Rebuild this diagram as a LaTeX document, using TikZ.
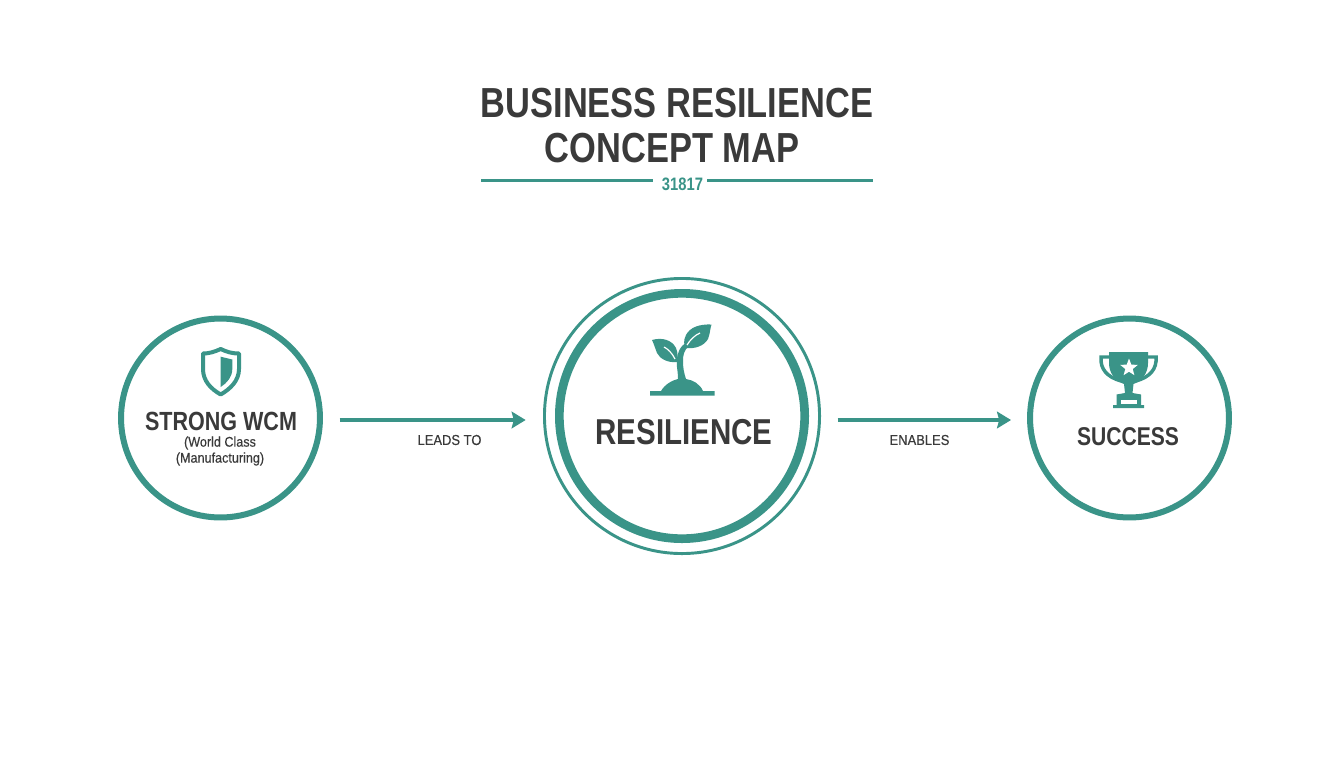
\documentclass[tikz,border=0pt]{standalone}
\usepackage{fontspec}
\setmainfont{Liberation Sans}
\newfontfamily\headfont[FakeStretch=0.82]{Liberation Sans Bold}
\newfontfamily\labelfont[FakeStretch=0.9,FakeBold=0.35]{Liberation Sans}
\usetikzlibrary{arrows.meta}
\definecolor{teal1}{HTML}{3A9488}
\definecolor{ink}{HTML}{3A3A3A}
\tikzset{
  ring/.style={circle,draw=teal1,fill=white,inner sep=0pt,line width=4.5pt},
  flow/.style={draw=teal1,line width=2.8pt,-{Stealth[length=10.5pt,width=12.5pt,inset=1.6pt]}},
  rulel/.style={draw=teal1,line width=1.9pt},
  head/.style={text=ink,inner sep=0pt,font=\headfont\fontsize{31.5pt}{36pt}\selectfont},
  lab/.style={text=ink,inner sep=0pt,font=\labelfont\fontsize{10.8pt}{13pt}\selectfont},
  icon/.style={fill=teal1,draw=none}
}
\begin{document}
\begin{tikzpicture}[x=0.75pt,y=-0.75pt]
\useasboundingbox (0,0) rectangle (1344,768);
\fill[white] (0,0) rectangle (1344,768);
% title
\node[head] (t1) at (677,103) {BUSINESS RESILIENCE};
\node[head] (t2) at (672,148) {CONCEPT MAP};
\node[inner sep=0pt,text=teal1,font=\headfont\fontsize{13.5pt}{16pt}\selectfont] (num) at (682.5,184.5) {31817};
\coordinate (ll) at (481,180.5);
\coordinate (lr) at (873,180.5);
\draw[rulel] (ll) -- ([xshift=-6.5pt]num.west |- ll);
\draw[rulel] ([xshift=3pt]num.east |- lr) -- (lr);
% circles
\node[ring,minimum size=149.2pt] (wcm) at (220.5,418) {};
\node[circle,draw=teal1,fill=white,inner sep=0pt,line width=2.2pt,minimum size=206.3pt] (resout) at (682,416) {};
\node[ring,line width=6.5pt,minimum size=184pt] (res) at (682,416) {};
\node[ring,minimum size=149.2pt] (suc) at (1129.5,418) {};
% arrows
\draw[flow] ([xshift=12.5pt,yshift=-1.5pt]wcm.east) -- ([xshift=-13pt,yshift=-3pt]resout.west);
\draw[flow] ([xshift=12.5pt,yshift=-3pt]resout.east) -- ([xshift=-12pt,yshift=-1.5pt]suc.west);
% texts
\node[head,font=\headfont\fontsize{19.7pt}{22pt}\selectfont] (wcmt) at (221,421) {STRONG WCM};
\node[lab,font=\labelfont\fontsize{10.5pt}{12pt}\selectfont] (wcms1) at (220,443) {(World Class};
\node[lab,font=\labelfont\fontsize{10.5pt}{12pt}\selectfont] (wcms2) at (220,459) {(Manufacturing)};
\node[head,font=\headfont\fontsize{27pt}{30pt}\selectfont] (rest) at (684,432) {RESILIENCE};
\node[head,font=\headfont\fontsize{19.3pt}{22pt}\selectfont] (suct) at (1128,437) {SUCCESS};
\node[lab] (l1) at (449.5,440) {LEADS TO};
\node[lab] (l2) at (919.5,440) {ENABLES};
% shield
\draw[teal1,line width=3pt,line join=round,fill=white]
  (220.7,349) .. controls (214,352) and (209,353.5) .. (203,353.5)
  -- (203,369) .. controls (203,381) and (211,389) .. (220.7,394.5)
  .. controls (230,389) and (239,381) .. (239,369)
  -- (239,353.5) .. controls (232,353.5) and (227,352) .. (220.7,349) -- cycle;
\fill[icon] (220.7,356.7) -- (232.3,359.5) -- (232.3,369)
  .. controls (232.3,377) and (227,383) .. (220.7,387) -- cycle;
% sprout
\fill[icon] (650,391) -- (661,391) .. controls (665,384) and (673,380) .. (678,379)
  .. controls (678,368) and (675,364) .. (678,354)
  .. controls (680,346) and (684,344) .. (688,342)
  -- (689,346) .. controls (684,350) and (683,355) .. (683,361)
  .. controls (683,368) and (684,373) .. (686,379)
  .. controls (693,380) and (700,384) .. (703,391)
  -- (714.5,391) -- (714.5,395.5) -- (650,395.5) -- cycle;
\fill[icon] (652,340) .. controls (662,337) and (672,340) .. (676,348)
  .. controls (678,353) and (678,358) .. (677,362)
  .. controls (668,363) and (660,359) .. (657,353)
  .. controls (655,348) and (654,344) .. (652,340) -- cycle;
\draw[white,line width=0.9pt] (664,347) .. controls (668,349) and (672,353) .. (675,359);
\fill[icon] (711.5,324.5) .. controls (700,324) and (690,327) .. (686,335)
  .. controls (683,341) and (684,345) .. (686,348)
  .. controls (695,349) and (704,346) .. (708,339)
  .. controls (710,334) and (710,329) .. (711.5,324.5) -- cycle;
\draw[white,line width=0.9pt] (700,333) .. controls (695,335) and (690,340) .. (687,345);
% trophy
\draw[teal1,line width=2.6pt,fill=none] (1110,357) -- (1101,357) .. controls (1100,369) and (1107,377) .. (1121,381);
\draw[teal1,line width=2.6pt,fill=none] (1147,357) -- (1156,357) .. controls (1157,369) and (1150,377) .. (1136,381);
\fill[icon] (1109,352) -- (1148,352) -- (1148,363) .. controls (1148,373) and (1142,381) .. (1133.5,384)
  -- (1132.5,393) -- (1141,394.5) -- (1141,405) -- (1144,405) -- (1144,408) -- (1113,408) -- (1113,405) -- (1116.5,405) -- (1116.5,394.5) -- (1125,393) -- (1124,384)
  .. controls (1115,381) and (1109,373) .. (1109,363) -- cycle;
\fill[white] (1120.5,399.5) rectangle (1137,403.5);
\fill[white] (1129,358.5) -- (1131.3,364.6) -- (1137.8,364.9) -- (1132.7,369) -- (1134.4,375.2) -- (1129,371.7) -- (1123.6,375.2) -- (1125.3,369) -- (1120.2,364.9) -- (1126.7,364.6) -- cycle;
\end{tikzpicture}
\end{document}
